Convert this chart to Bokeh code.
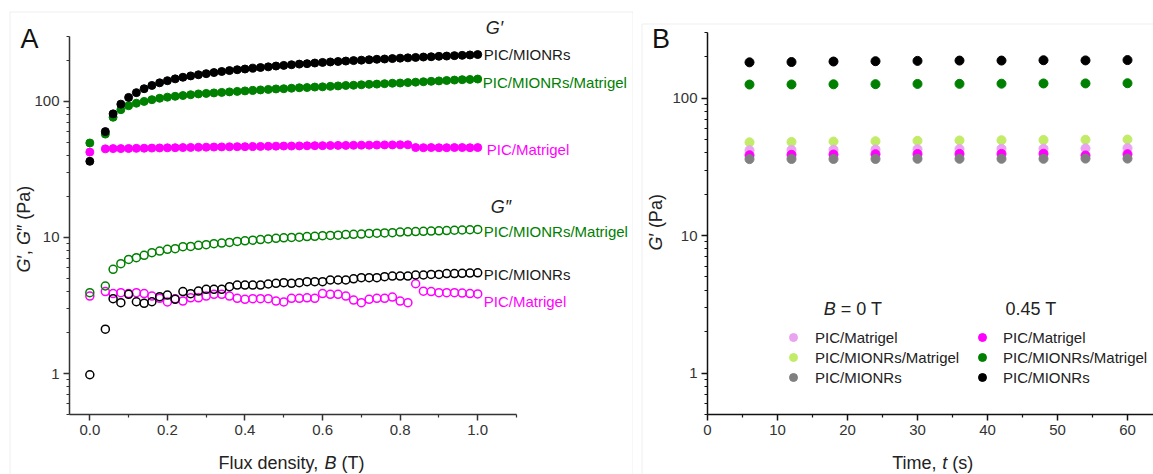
import math
from bokeh.plotting import figure
from bokeh.models import FixedTicker, PrintfTickFormatter, Label, Legend, LegendItem, BoxAnnotation
from bokeh.layouts import row
from bokeh.embed import file_html
from bokeh.resources import INLINE

# ---------------- data: panel A (G', G'' vs flux density) ----------------
flux_B = [0, 0.04, 0.06, 0.08, 0.10, 0.12, 0.14, 0.16, 0.18, 0.20,
          0.22, 0.24, 0.26, 0.28, 0.30, 0.32, 0.34, 0.36, 0.38, 0.40,
          0.42, 0.44, 0.46, 0.48, 0.50, 0.52, 0.54, 0.56, 0.58, 0.60,
          0.62, 0.64, 0.66, 0.68, 0.70, 0.72, 0.74, 0.76, 0.78, 0.80,
          0.82, 0.84, 0.86, 0.88, 0.90, 0.92, 0.94, 0.96, 0.98, 1.00]

Gp_MIONRs = [36.3, 60, 81, 95.5, 107, 116, 124, 131, 137, 142,
             146.5, 150.5, 154, 157, 160, 163, 166, 168.5, 171, 173,
             175.5, 177.5, 179.5, 182, 184, 186, 188, 189.5, 191.5, 193.5,
             195, 196.5, 198, 199.5, 201, 202.5, 204, 205, 206.5, 208,
             209, 210.5, 212, 213, 214.5, 215.5, 217, 218, 219.5, 221]
Gp_MIONRs_Matrigel = [49.5, 57.5, 76.5, 87, 93, 97, 100, 103, 105.5, 107.5,
                      109, 110.5, 112, 113.5, 114.5, 115.5, 116.5, 117.5, 118.5, 119.5,
                      120.5, 121.5, 122.5, 123.5, 124, 125, 126, 126.5, 127.5, 128,
                      129, 130, 131, 131.5, 132.5, 133.5, 134, 135, 136, 136.5,
                      137.5, 138.5, 139.5, 140.5, 141.5, 142.5, 143.5, 144.5, 145, 146]
Gp_Matrigel = [42.4, 44.8, 45.0, 45.0, 45.1, 45.2, 45.3, 45.4, 45.5, 45.6,
               45.7, 45.8, 45.9, 46.0, 46.1, 46.2, 46.3, 46.4, 46.5, 46.5,
               46.6, 46.7, 46.8, 46.9, 47.0, 47.0, 47.1, 47.2, 47.3, 47.3,
               47.4, 47.5, 47.5, 47.6, 47.7, 47.7, 47.8, 47.9, 47.9, 48.0,
               48.0, 45.8, 45.7, 45.8, 45.7, 45.7, 45.8, 45.8, 45.7, 45.8]
Gpp_MIONRs_Matrigel = [3.93, 4.4, 5.83, 6.42, 6.9, 7.1, 7.39, 7.73, 7.95, 8.18,
                       8.27, 8.56, 8.6, 8.75, 8.85, 9.0, 9.1, 9.2, 9.35, 9.45,
                       9.55, 9.65, 9.75, 9.85, 9.95, 10.0, 10.05, 10.15, 10.2, 10.3,
                       10.35, 10.4, 10.5, 10.55, 10.6, 10.7, 10.75, 10.8, 10.85, 10.95,
                       11.0, 11.05, 11.1, 11.15, 11.2, 11.25, 11.3, 11.35, 11.4, 11.45]
Gpp_MIONRs = [0.98, 2.12, 3.55, 3.32, 3.82, 3.37, 3.28, 3.37, 3.67, 3.77,
              3.51, 4.0, 3.86, 4.04, 4.16, 4.16, 4.16, 4.35, 4.47, 4.47,
              4.47, 4.47, 4.55, 4.6, 4.65, 4.6, 4.65, 4.73, 4.73, 4.73,
              4.87, 4.87, 4.87, 4.97, 5.06, 5.06, 5.06, 5.15, 5.2, 5.2,
              5.2, 5.3, 5.3, 5.35, 5.35, 5.43, 5.43, 5.45, 5.48, 5.5]
Gpp_Matrigel = [3.71, 4.0, 3.87, 3.93, 3.87, 3.93, 3.87, 3.71, 3.57, 3.36,
                3.55, 3.41, 3.6, 3.6, 3.71, 3.82, 3.82, 3.71, 3.57, 3.51,
                3.55, 3.55, 3.55, 3.41, 3.36, 3.57, 3.57, 3.6, 3.57, 3.87,
                3.82, 3.82, 3.71, 3.47, 3.32, 3.51, 3.57, 3.57, 3.65, 3.41,
                3.32, 4.57, 4.03, 4.0, 3.93, 3.93, 3.93, 3.9, 3.87, 3.85]

# ---------------- data: panel B (G' vs time) ----------------
time_s = [6, 12, 18, 24, 30, 36, 42, 48, 54, 60]
B0_Matrigel = [41.8, 42.0, 42.2, 42.3, 42.5, 42.6, 42.8, 42.9, 43.1, 43.3]
B0_MIONRs_Matrigel = [47.7, 48.0, 48.3, 48.6, 48.9, 49.2, 49.4, 49.6, 49.8, 50.0]
B0_MIONRs = [36.0, 36.1, 36.1, 36.1, 36.2, 36.2, 36.2, 36.2, 36.3, 36.3]
B45_Matrigel = [38.4, 38.7, 38.9, 39.1, 39.2, 39.3, 39.3, 39.4, 38.3, 39.1]
B45_MIONRs_Matrigel = [125.5, 125.7, 126, 126.3, 126.8, 127, 127.3, 127.8, 127.9, 128.3]
B45_MIONRs = [182, 183, 184.5, 185.5, 186.5, 187.5, 187.5, 188.5, 188, 189]

xA_ticks = [0.0, 0.2, 0.4, 0.6, 0.8, 1.0]
xA_minor = [0.1, 0.3, 0.5, 0.7, 0.9, 1.1]
xB_ticks = [0, 10, 20, 30, 40, 50, 60]
xB_minor = [5, 15, 25, 35, 45, 55, 65]
y_ticks = [1, 10, 100]
y_minor = [0.5, 0.6, 0.7, 0.8, 0.9, 2, 3, 4, 5, 6, 7, 8, 9,
           20, 30, 40, 50, 60, 70, 80, 90, 200, 300]

BLACK = "#000000"
GREEN = "#008000"
MAGENTA = "#ff00ff"
LPINK = "#e9a3ef"
LGREEN = "#c2ec68"
GRAY = "#808080"
FONT = "Liberation Sans"
BORDER_COLOR = "#c8c8c8"

XA = (-0.0524, 1.1)      # axis extent, panel A
YR = (0.5, 300)          # axis extent, both panels
XB0 = 0.0

# ---------- page-pixel geometry (layout only) ----------
# panel A canvas: page x 0..633, y 0..474 ; axes box: x 69..516, y 36..414
# panel B canvas: page x 633..1153, y 0..474 ; axes box: x 707.., y 32..414
A_SX = 447 / (XA[1] - XA[0])
A_SY = 378 / (math.log10(YR[1]) - math.log10(YR[0]))
B_SX = 7.0
B_SY = 382 / (math.log10(YR[1]) - math.log10(YR[0]))
W, H, SPLIT = 1153, 474, 633


def a_x(px):
    return XA[0] + (px - 69) / A_SX


def a_y(py):
    return 10 ** (math.log10(YR[0]) + (414 - py) / A_SY)


def b_x(px):
    return XB0 + (px - 707) / B_SX


def b_y(py):
    return 10 ** (math.log10(YR[0]) + (414 - py) / B_SY)


def style_axes(p, color, xbounds, xloc):
    p.min_border_left = 0
    p.min_border_right = 0
    p.min_border_top = 0
    p.min_border_bottom = 0
    for ax in (p.xaxis[0], p.yaxis[0]):
        ax.axis_line_width = 1.5
        ax.axis_line_color = color
        ax.major_tick_line_color = color
        ax.major_tick_line_width = 1.5
        ax.minor_tick_line_color = color
        ax.minor_tick_line_width = 1.2
        ax.major_tick_in = 0
        ax.major_tick_out = 6
        ax.minor_tick_in = 0
        ax.minor_tick_out = 3
        ax.major_label_text_font = FONT
        ax.major_label_text_font_size = "15px"
        ax.major_label_text_color = "#333333"
        ax.major_label_standoff = 4
    p.xaxis.fixed_location = YR[0]
    p.xaxis.bounds = xbounds
    p.yaxis.fixed_location = xloc
    p.yaxis.bounds = YR
    p.xgrid.visible = False
    p.ygrid.visible = False
    p.outline_line_color = None
    p.background_fill_color = "white"
    p.border_fill_color = "white"
    p.yaxis.ticker = FixedTicker(ticks=y_ticks, minor_ticks=y_minor)
    p.yaxis.formatter = PrintfTickFormatter(format="%d")


def add_label(p, x, y, text, size="15px", color="#222222", style="normal",
              angle=0, align="left", x_offset=0, y_offset=0):
    p.add_layout(Label(x=x, y=y, text=text, text_font=FONT, text_font_size=size,
                       text_color=color, text_font_style=style, angle=angle,
                       text_align=align, text_baseline="middle",
                       x_offset=x_offset, y_offset=y_offset))


# ---------------- panel A ----------------
pA = figure(width=SPLIT, height=H, x_range=(a_x(0), a_x(SPLIT)), y_range=(a_y(H), a_y(0)),
            y_axis_type="log", output_backend="svg", toolbar_location=None)
style_axes(pA, "#333333", XA, XA[0])
pA.xaxis.ticker = FixedTicker(ticks=xA_ticks, minor_ticks=xA_minor)
pA.xaxis.formatter = PrintfTickFormatter(format="%.1f")
pA.add_layout(BoxAnnotation(left=a_x(9.5), right=a_x(632.5), top=a_y(11.5), bottom=a_y(520),
                            fill_alpha=0, line_color=BORDER_COLOR, line_width=1))

# G'' open circles
for vals, col in ((Gpp_Matrigel, MAGENTA), (Gpp_MIONRs, BLACK), (Gpp_MIONRs_Matrigel, GREEN)):
    pA.scatter(flux_B, vals, marker="circle", size=8, fill_color=None,
               line_color=col, line_width=1.5)
# G' filled circles
for vals, col in ((Gp_Matrigel, MAGENTA), (Gp_MIONRs_Matrigel, GREEN), (Gp_MIONRs, BLACK)):
    pA.scatter(flux_B, vals, marker="circle", size=8, fill_color=col, line_color=col)

xe = flux_B[-1]
add_label(pA, xe, Gp_MIONRs[-1], "G\u2032", size="18px", style="italic", x_offset=8, y_offset=27)
add_label(pA, xe, Gp_MIONRs[-1], "PIC/MIONRs", color="#1a1a1a", x_offset=6)
add_label(pA, xe, Gp_MIONRs_Matrigel[-1], "PIC/MIONRs/Matrigel", color=GREEN, x_offset=5, y_offset=-3)
add_label(pA, xe, Gp_Matrigel[-1], "PIC/Matrigel", color=MAGENTA, x_offset=9, y_offset=-2)
add_label(pA, xe, Gpp_MIONRs_Matrigel[-1], "G\u2033", size="18px", style="italic", x_offset=13, y_offset=22)
add_label(pA, xe, Gpp_MIONRs_Matrigel[-1], "PIC/MIONRs/Matrigel", color=GREEN, x_offset=6, y_offset=-2)
add_label(pA, xe, Gpp_MIONRs[-1], "PIC/MIONRs", color="#1a1a1a", x_offset=6, y_offset=-1.5)
add_label(pA, xe, Gpp_Matrigel[-1], "PIC/Matrigel", color=MAGENTA, x_offset=6, y_offset=-8)

# panel letter and axis titles
add_label(pA, a_x(29), a_y(38), "A", size="27px", color="#111111", align="center")
add_label(pA, a_x(218), a_y(462), "Flux density,", size="18px")
add_label(pA, a_x(324), a_y(462), "B", size="18px", style="italic")
add_label(pA, a_x(341), a_y(462), "(T)", size="18px")
add_label(pA, a_x(23), a_y(272), "G", size="18px", style="italic", angle=math.pi / 2)
add_label(pA, a_x(23), a_y(258), "\u2032,", size="18px", angle=math.pi / 2)
add_label(pA, a_x(23), a_y(244.6), "G", size="18px", style="italic", angle=math.pi / 2)
add_label(pA, a_x(23), a_y(230.6), "\u2033 (Pa)", size="18px", angle=math.pi / 2)

# ---------------- panel B ----------------
pB = figure(width=W - SPLIT, height=H, x_range=(b_x(SPLIT), b_x(W)), y_range=(b_y(H), b_y(0)),
            y_axis_type="log", output_backend="svg", toolbar_location=None)
style_axes(pB, "#111111", (XB0, b_x(W)), XB0)
pB.xaxis.ticker = FixedTicker(ticks=xB_ticks, minor_ticks=xB_minor)
pB.xaxis.formatter = PrintfTickFormatter(format="%d")
pB.add_layout(BoxAnnotation(left=b_x(641.5), right=b_x(1300), top=b_y(23.5), bottom=b_y(520),
                            fill_alpha=0, line_color=BORDER_COLOR, line_width=1))

rB = {}
for key, vals, col in (("lg", B0_MIONRs_Matrigel, LGREEN), ("lp", B0_Matrigel, LPINK),
                       ("m", B45_Matrigel, MAGENTA), ("gr", B0_MIONRs, GRAY),
                       ("g", B45_MIONRs_Matrigel, GREEN), ("k", B45_MIONRs, BLACK)):
    rB[key] = pB.scatter(time_s, vals, marker="circle", size=9, fill_color=col, line_color=col)

leg_common = dict(glyph_width=20, glyph_height=20, label_height=20, spacing=0, padding=0,
                  margin=0, border_line_color=None, background_fill_alpha=0,
                  label_text_font=FONT, label_text_font_size="15px", label_text_color="#222222")
leg1 = Legend(items=[LegendItem(label="PIC/Matrigel", renderers=[rB["lp"]]),
                     LegendItem(label="PIC/MIONRs/Matrigel", renderers=[rB["lg"]]),
                     LegendItem(label="PIC/MIONRs", renderers=[rB["gr"]])],
              location=(783 - SPLIT, H - 387), label_standoff=12, **leg_common)
leg2 = Legend(items=[LegendItem(label="PIC/Matrigel", renderers=[rB["m"]]),
                     LegendItem(label="PIC/MIONRs/Matrigel", renderers=[rB["g"]]),
                     LegendItem(label="PIC/MIONRs", renderers=[rB["k"]])],
              location=(972 - SPLIT, H - 387), label_standoff=11, **leg_common)
pB.add_layout(leg1)
pB.add_layout(leg2)

add_label(pB, b_x(823.3), b_y(308), "B", size="18px", style="italic")
add_label(pB, b_x(840.3), b_y(308), "= 0 T", size="18px")
add_label(pB, b_x(1005), b_y(308), "0.45 T", size="18px")

add_label(pB, b_x(660.5), b_y(38), "B", size="27px", color="#111111", align="center")
add_label(pB, b_x(891.7), b_y(462), "Time,", size="18px")
add_label(pB, b_x(941.7), b_y(462), "t", size="18px", style="italic")
add_label(pB, b_x(951.7), b_y(462), "(s)", size="18px")
add_label(pB, b_x(655), b_y(250), "G", size="18px", style="italic", angle=math.pi / 2)
add_label(pB, b_x(655), b_y(236), "\u2032 (Pa)", size="18px", angle=math.pi / 2)

layout = row(pA, pB)
open("out.html", "w").write(file_html(layout, INLINE))
